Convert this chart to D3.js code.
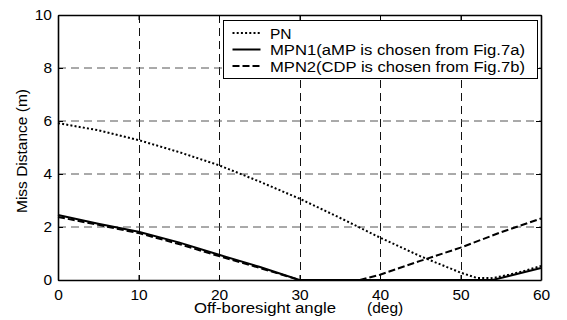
<!DOCTYPE html>
<html>
<head>
<meta charset="utf-8">
<script src="https://cdn.jsdelivr.net/npm/d3@7"></script>
<style>
body { margin: 0; background: #fff; }
text { font-family: "Liberation Sans", Arial, sans-serif; fill: #000; }
</style>
</head>
<body>
<div id="chart-area"></div>
<script>
// angle (deg)
var pnAngle = [0, 5, 10, 15, 20, 25, 30, 35, 40, 45, 50, 52, 54, 56, 58, 60];
var pnMiss = [5.92, 5.65, 5.28, 4.83, 4.33, 3.72, 3.07, 2.35, 1.6, 0.9, 0.28, 0.08, 0.07, 0.2, 0.35, 0.53];
var mpn1Angle = [0, 5, 10, 15, 20, 25, 30, 54, 56, 58, 60];
var mpn1Miss = [2.45, 2.12, 1.82, 1.42, 0.95, 0.5, 0.0, 0.0, 0.15, 0.3, 0.45];
var mpn2Angle = [0, 5, 10, 15, 20, 25, 30, 37.5, 40, 45, 50, 55, 60];
var mpn2Miss = [2.38, 2.08, 1.77, 1.36, 0.9, 0.46, 0.0, 0.0, 0.2, 0.72, 1.22, 1.8, 2.32];
var xTicks = [0, 10, 20, 30, 40, 50, 60];
var yTicks = [0, 2, 4, 6, 8, 10];
var legendLabels = ["PN", "MPN1(aMP is chosen from Fig.7a)", "MPN2(CDP is chosen from Fig.7b)"];

var margin = {left: 58, right: 26, top: 15, bottom: 40};
var width = 567 - margin.left - margin.right;
var height = 320 - margin.top - margin.bottom;

var svg = d3.select("#chart-area").append("svg")
    .attr("width", 567)
    .attr("height", 320);
var g = svg.append("g")
    .attr("transform", "translate(" + margin.left + ", " + margin.top + ")");

var x = d3.scaleLinear().domain([0, 60]).range([0, width]);
var y = d3.scaleLinear().domain([0, 10]).range([height, 0]);

// grid
g.selectAll(".vgrid").data(xTicks.slice(1, -1)).enter().append("line")
    .attr("x1", d => Math.round(x(d)) + 0.5).attr("x2", d => Math.round(x(d)) + 0.5)
    .attr("y1", 0).attr("y2", height)
    .attr("stroke", "#111").attr("stroke-width", 1).attr("stroke-dasharray", "8,5");
g.selectAll(".hgrid").data(yTicks.slice(1, -1)).enter().append("line")
    .attr("x1", 0).attr("x2", width)
    .attr("y1", d => y(d)).attr("y2", d => y(d))
    .attr("stroke", "#555").attr("stroke-width", 1).attr("stroke-dasharray", "8,5");

// axes
var xAxis = d3.axisBottom(x).tickValues(xTicks).tickSizeInner(-5).tickSizeOuter(0).tickPadding(9);
var yAxis = d3.axisLeft(y).tickValues(yTicks).tickSizeInner(-5).tickSizeOuter(0).tickPadding(6);
var xg = g.append("g").attr("transform", "translate(0, " + height + ")").call(xAxis);
var yg = g.append("g").call(yAxis);
g.append("g").call(d3.axisTop(x).tickValues(xTicks).tickSizeInner(-5).tickSizeOuter(0).tickFormat(""));
g.append("g").attr("transform", "translate(" + width + ",0)")
    .call(d3.axisRight(y).tickValues(yTicks).tickSizeInner(-5).tickSizeOuter(0).tickFormat(""));
svg.selectAll(".domain").attr("stroke", "#000").attr("stroke-width", 1.6);
svg.selectAll(".tick line").attr("stroke", "#000");
xg.selectAll("text").attr("font-size", "15.5px").attr("font-family", "Liberation Sans, Arial, sans-serif");
yg.selectAll("text").attr("font-size", "15.5px").attr("font-family", "Liberation Sans, Arial, sans-serif");

// lines
var line = d3.line().x(d => x(d[0])).y(d => y(d[1]));
var series = [
    {a: pnAngle, m: pnMiss, dash: "2,2.2"},
    {a: mpn1Angle, m: mpn1Miss, dash: null},
    {a: mpn2Angle, m: mpn2Miss, dash: "7,3"}
];
series.forEach(function(s) {
    g.append("path")
        .datum(d3.zip(s.a, s.m))
        .attr("d", line)
        .attr("fill", "none")
        .attr("stroke", "#000")
        .attr("stroke-width", 2)
        .attr("stroke-dasharray", s.dash);
});

// legend
var lg = svg.append("g").attr("transform", "translate(223.5, 20.5)");
lg.append("rect").attr("width", 314).attr("height", 58)
    .attr("fill", "#fff").attr("stroke", "#000").attr("stroke-width", 1);
series.forEach(function(s, i) {
    var yy = 12.5 + i * 16.5;
    lg.append("line").attr("x1", 9).attr("x2", 37).attr("y1", yy).attr("y2", yy)
        .attr("stroke", "#000").attr("stroke-width", 2).attr("stroke-dasharray", s.dash);
    var t = lg.append("text").attr("x", 46.5).attr("y", yy + 5.5).attr("font-size", "15.5px").text(legendLabels[i]);
    if (i > 0) t.attr("textLength", 255).attr("lengthAdjust", "spacingAndGlyphs");
});

// axis labels
svg.append("text").attr("x", 194).attr("y", 313).attr("font-size", "15.5px")
    .attr("textLength", 142).attr("lengthAdjust", "spacingAndGlyphs").text("Off-boresight angle");
svg.append("text").attr("x", 367).attr("y", 313).attr("font-size", "15.5px").text("(deg)");
svg.append("text").attr("transform", "translate(27, 151) rotate(-90)")
    .attr("text-anchor", "middle").attr("font-size", "15.5px").text("Miss Distance (m)");
</script>
</body>
</html>
